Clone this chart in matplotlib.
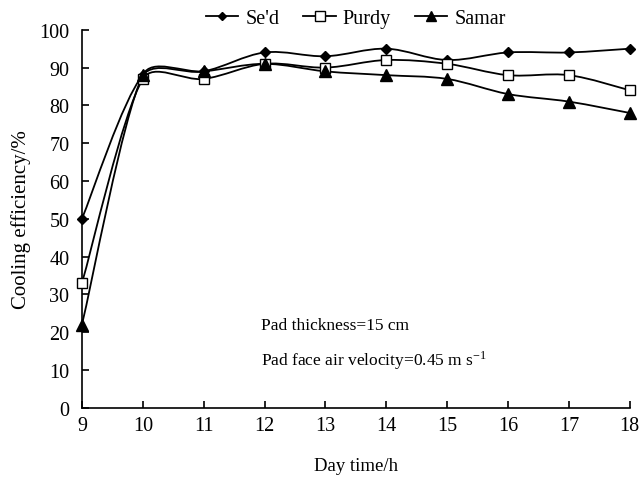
import numpy as np
import matplotlib
matplotlib.use('Agg')
import matplotlib.pyplot as plt
from matplotlib.path import Path
from matplotlib.patches import PathPatch
from matplotlib.lines import Line2D

plt.rcParams['font.family'] = ['Liberation Serif', 'DejaVu Serif']
plt.rcParams['mathtext.fontset'] = 'stix'

hours = [9, 10, 11, 12, 13, 14, 15, 16, 17, 18]
sed   = [50, 88, 89, 94, 93, 95, 92, 94, 94, 95]
purdy = [33, 87, 87, 91, 90, 92, 91, 88, 88, 84]
samar = [22, 88, 89, 91, 89, 88, 87, 83, 81, 78]


def smooth_path(ax, x, y):
	# smoothed line like a spreadsheet chart: Bezier with Catmull-Rom
	# control points, worked out in pixel space and capped to avoid overshoot
	tr = ax.transData
	p = tr.transform(np.column_stack([x, y]).astype(float))
	ext = np.vstack([p[0], p, p[-1]])
	verts = [p[0]]
	codes = [Path.MOVETO]
	for i in range(len(p) - 1):
		p0, p1, p2, p3 = ext[i], ext[i + 1], ext[i + 2], ext[i + 3]
		seg = np.hypot(*(p2 - p1))
		d1 = (p2 - p0) / 6.0
		d2 = (p3 - p1) / 6.0
		for d in (d1, d2):
			n = np.hypot(*d)
			if n > seg / 3.0:
				d *= (seg / 3.0) / n
		verts += [p1 + d1, p2 - d2, p2]
		codes += [Path.CURVE4] * 3
	verts = tr.inverted().transform(np.array(verts))
	return Path(verts, codes)


fig = plt.figure(figsize=(6.4, 4.81), dpi=100)
ax = fig.add_axes([0.128, 0.150, 0.856, 0.786])
ax.set_xlim(9, 18)
ax.set_ylim(0, 100)

series = [(sed, 'D', 'black', 5.5, "Se'd"),
		  (purdy, 's', 'white', 7.5, 'Purdy'),
		  (samar, '^', 'black', 8, 'Samar')]

handles = []
for vals, mk, fc, ms, name in series:
	ax.add_patch(PathPatch(smooth_path(ax, hours, vals), fill=False, lw=1.3, ec='black', zorder=2))
	ax.plot(hours, vals, ls='none', marker=mk, ms=ms, mfc=fc, mec='black', mew=1.0, zorder=3, clip_on=False)
	handles.append(Line2D([], [], color='black', lw=1.3, marker=mk, ms=ms - 1, mfc=fc, mec='black', mew=1.0))

ax.set_xticks(hours)
ax.set_yticks(np.arange(0, 101, 10))
ax.tick_params(direction='in', length=5, width=1.2, labelsize=14.5)
ax.tick_params(axis='x', pad=6)
ax.tick_params(axis='y', pad=9)
for s in ['top', 'right']:
	ax.spines[s].set_visible(False)
for s in ['left', 'bottom']:
	ax.spines[s].set_linewidth(1.2)

ax.set_xlabel('Day time/h', fontsize=13.5, labelpad=16)
ax.set_ylabel('Cooling efficiency/%', fontsize=15, labelpad=6)

ax.text(11.94, 22, 'Pad thickness=15 cm', fontsize=12.5, va='center')
ax.text(11.94, 12.7, 'Pad face air velocity=0.45 m s$^{\\mathregular{-1}}$', fontsize=12.5, va='center')

ax.legend(handles, ["Se'd", 'Purdy', 'Samar'], loc='center', bbox_to_anchor=(0.5, 1.03),
		  ncol=3, frameon=False, fontsize=14.5, handlelength=1.6, columnspacing=1.2, handletextpad=0.35)

fig.savefig('out.png', dpi=100)
